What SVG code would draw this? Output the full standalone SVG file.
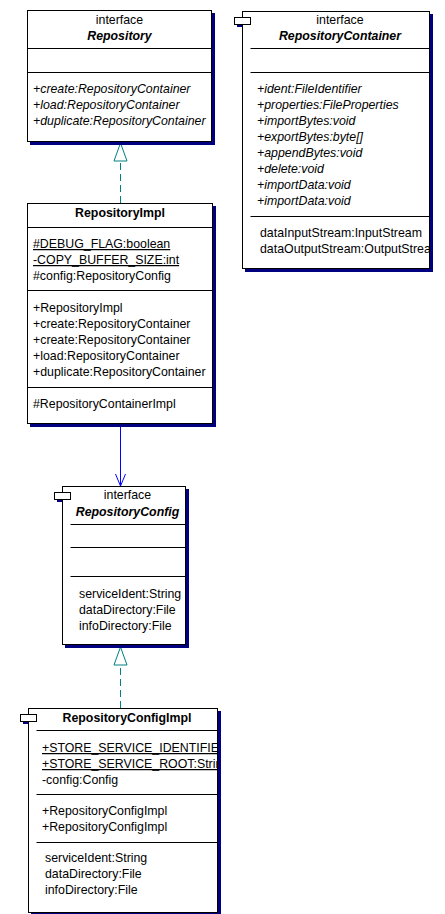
<svg xmlns="http://www.w3.org/2000/svg" width="445" height="914" viewBox="0 0 445 914">
<style>
text{font-family:"Liberation Sans",Arial,sans-serif;font-size:12.35px;fill:#000}
.t{font-weight:bold;text-anchor:middle}
.ti{font-weight:bold;font-style:italic;text-anchor:middle}
.c{text-anchor:middle}
.i{font-style:italic}
.u{text-decoration:underline}
.box{fill:#fff;stroke:#000;stroke-width:1}
.ico{fill:#fff;stroke:#000;stroke-width:1}
.sh{fill:#000080}
.ln{stroke:#000;stroke-width:1}
.real{stroke:#008080;stroke-width:1;fill:none;stroke-dasharray:7 4}
.tri{fill:#fff;stroke:#008080;stroke-width:1}
.dep{stroke:#0000ff;stroke-width:1;fill:none}
</style>
<defs>
<clipPath id="clipRC"><rect x="242" y="11" width="187" height="257"/></clipPath>
<clipPath id="clipRCI"><rect x="28" y="708" width="189" height="204"/></clipPath>
</defs>
<g id="connectors">
<path class="real" d="M120.5 203 V161"/>
<polygon class="tri" points="120.5,143 114,161 127,161"/>
<path class="dep" d="M120.5 424 V486"/>
<polyline class="dep" points="115.5,474 120.5,486 125.5,474"/>
<path class="real" d="M120.5 708 V665"/>
<polygon class="tri" points="120.5,647 114,665 127,665"/>
</g>
<g id="Repository">
<rect class="sh" x="30" y="13" width="185" height="132"/>
<rect class="box" x="27.5" y="10.5" width="184" height="131"/>
<line class="ln" x1="27.5" y1="48.5" x2="211.5" y2="48.5"/>
<line class="ln" x1="27.5" y1="72.5" x2="211.5" y2="72.5"/>
<text class="c" x="119.5" y="24">interface</text>
<text class="ti" x="119.5" y="40">Repository</text>
<text class="i" x="33" y="93">+create:RepositoryContainer</text>
<text class="i" x="33" y="109">+load:RepositoryContainer</text>
<text class="i" x="33" y="125">+duplicate:RepositoryContainer</text>
</g>
<g id="RepositoryContainer">
<rect class="sh" x="237" y="20" width="16" height="7"/>
<rect class="sh" x="245" y="14" width="188" height="258"/>
<rect class="box" x="242.5" y="11.5" width="187" height="257"/>
<rect class="ico" x="234.5" y="17.5" width="16" height="7"/>
<line class="ln" x1="250.5" y1="48.5" x2="429.5" y2="48.5"/>
<line class="ln" x1="250.5" y1="72.5" x2="429.5" y2="72.5"/>
<line class="ln" x1="250.5" y1="216.5" x2="429.5" y2="216.5"/>
<g clip-path="url(#clipRC)">
<text class="c" x="340" y="24">interface</text>
<text class="ti" x="340" y="40">RepositoryContainer</text>
<text class="i" x="257" y="93">+ident:FileIdentifier</text>
<text class="i" x="257" y="109">+properties:FileProperties</text>
<text class="i" x="257" y="125">+importBytes:void</text>
<text class="i" x="257" y="141">+exportBytes:byte[]</text>
<text class="i" x="257" y="157">+appendBytes:void</text>
<text class="i" x="257" y="173">+delete:void</text>
<text class="i" x="257" y="189">+importData:void</text>
<text class="i" x="257" y="205">+importData:void</text>
<text x="260" y="237">dataInputStream:InputStream</text>
<text x="260" y="253">dataOutputStream:OutputStream</text>
</g>
</g>
<g id="RepositoryImpl">
<rect class="sh" x="30" y="206" width="186" height="221"/>
<rect class="box" x="27.5" y="203.5" width="185" height="220"/>
<line class="ln" x1="27.5" y1="227.5" x2="212.5" y2="227.5"/>
<line class="ln" x1="27.5" y1="290.5" x2="212.5" y2="290.5"/>
<line class="ln" x1="27.5" y1="387.5" x2="212.5" y2="387.5"/>
<text class="t" x="120" y="217">RepositoryImpl</text>
<text class="u" x="33" y="248">#DEBUG_FLAG:boolean</text>
<text class="u" x="33" y="264">-COPY_BUFFER_SIZE:int</text>
<text x="33" y="280">#config:RepositoryConfig</text>
<text x="33" y="312">+RepositoryImpl</text>
<text x="33" y="328">+create:RepositoryContainer</text>
<text x="33" y="344">+create:RepositoryContainer</text>
<text x="33" y="360">+load:RepositoryContainer</text>
<text x="33" y="376">+duplicate:RepositoryContainer</text>
<text x="33" y="408">#RepositoryContainerImpl</text>
</g>
<g id="RepositoryConfig">
<rect class="sh" x="57" y="495" width="16" height="7"/>
<rect class="sh" x="65" y="489" width="124" height="159"/>
<rect class="box" x="62.5" y="486.5" width="123" height="158"/>
<rect class="ico" x="54.5" y="492.5" width="16" height="7"/>
<line class="ln" x1="70.5" y1="524.5" x2="185.5" y2="524.5"/>
<line class="ln" x1="70.5" y1="547.5" x2="185.5" y2="547.5"/>
<line class="ln" x1="70.5" y1="576.5" x2="185.5" y2="576.5"/>
<text class="c" x="127.5" y="499">interface</text>
<text class="ti" x="127.5" y="516">RepositoryConfig</text>
<text x="79" y="598">serviceIdent:String</text>
<text x="79" y="614">dataDirectory:File</text>
<text x="79" y="630">infoDirectory:File</text>
</g>
<g id="RepositoryConfigImpl">
<rect class="sh" x="23" y="717" width="16" height="7"/>
<rect class="sh" x="31" y="711" width="190" height="205"/>
<rect class="box" x="28.5" y="708.5" width="189" height="204"/>
<rect class="ico" x="20.5" y="714.5" width="16" height="7"/>
<line class="ln" x1="36.5" y1="730.5" x2="217.5" y2="730.5"/>
<line class="ln" x1="36.5" y1="794.5" x2="217.5" y2="794.5"/>
<line class="ln" x1="36.5" y1="842.5" x2="217.5" y2="842.5"/>
<g clip-path="url(#clipRCI)">
<text class="t" x="127" y="722">RepositoryConfigImpl</text>
<text class="u" x="42" y="752">+STORE_SERVICE_IDENTIFIER</text>
<text class="u" x="42" y="768">+STORE_SERVICE_ROOT:String</text>
<text x="42" y="784">-config:Config</text>
<text x="42" y="815">+RepositoryConfigImpl</text>
<text x="42" y="831">+RepositoryConfigImpl</text>
<text x="45" y="862">serviceIdent:String</text>
<text x="45" y="878">dataDirectory:File</text>
<text x="45" y="894">infoDirectory:File</text>
</g>
</g>
</svg>
